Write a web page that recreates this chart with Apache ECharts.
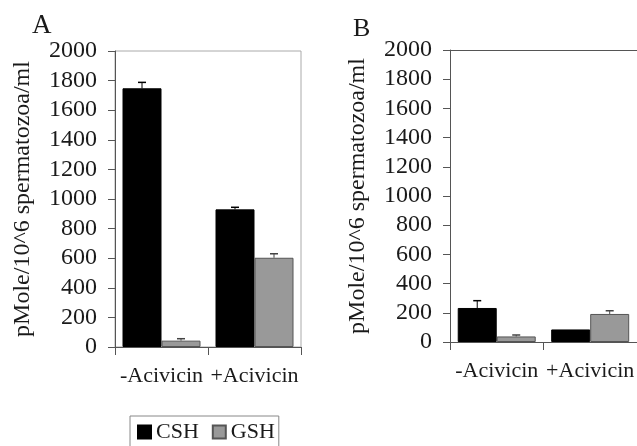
<!DOCTYPE html>
<html>
<head>
<meta charset="utf-8">
<script src="https://cdn.jsdelivr.net/npm/echarts@6/dist/echarts.min.js"></script>
<style>
html,body{margin:0;padding:0;background:#fff;}
#chart{width:637px;height:446px;}
</style>
</head>
<body>
<div id="chart"></div>
<script>
const categories = ['-Acivicin', '+Acivicin'];
const seriesNames = ['CSH', 'GSH'];
// Panel A
const cshA = [1748, 930];
const gshA = [43, 603];
const cshAErr = [40, 14];
const gshAErr = [13, 27];
// Panel B
const cshB = [233, 86];
const gshB = [38, 192];
const cshBErr = [50, 0];
const gshBErr = [10, 22];
const yMin = 0, yMax = 2000, yStep = 200;
const yTitle = 'pMole/10^6 spermatozoa/ml';

const FONT = 'Liberation Serif';
const TXT = '#1a1a1a';
const AX = '#555';
const BARW = 39;
const cshColor = '#000000';
const gshColor = '#999999';

function errData(vals, errs) {
  return vals.map((v, i) => [i, v, errs[i]]);
}
function errSeries(name, xi, yi, vals, errs, side, color) {
  return {
    type: 'custom', name: name + '_err', xAxisIndex: xi, yAxisIndex: yi,
    data: errData(vals, errs), z: 5, silent: true,
    renderItem: function (params, api) {
      const c = api.value(0), v = api.value(1), e = api.value(2);
      if (!e) return null;
      const base = api.coord([c, v]);
      const top = api.coord([c, v + e]);
      const x = base[0] + side * BARW / 2;
      return {
        type: 'group', children: [
          { type: 'line', shape: { x1: x, y1: base[1], x2: x, y2: top[1] }, style: { stroke: color, lineWidth: 1 } },
          { type: 'line', shape: { x1: x - 4, y1: top[1], x2: x + 4, y2: top[1] }, style: { stroke: color, lineWidth: 1.5 } }
        ]
      };
    }
  };
}
function yAxis(gi) {
  return {
    type: 'value', gridIndex: gi, min: yMin, max: yMax, interval: yStep,
    name: yTitle, nameLocation: 'middle', nameRotate: 90, nameGap: 80,
    nameTextStyle: { fontFamily: FONT, fontSize: 24, color: TXT },
    axisLine: { show: true, lineStyle: { color: AX, width: 1 } },
    axisTick: { show: true, length: 7, lineStyle: { color: AX } },
    axisLabel: { fontFamily: FONT, fontSize: 24, color: TXT, margin: 18, formatter: v => String(v) },
    splitLine: { show: false }
  };
}
function xAxis(gi) {
  return {
    type: 'category', gridIndex: gi, data: categories,
    axisLine: { show: true, lineStyle: { color: AX, width: 1 } },
    axisTick: { show: true, length: 8, alignWithLabel: false, lineStyle: { color: AX } },
    axisLabel: { fontFamily: FONT, fontSize: 22, color: TXT, margin: 18, interval: 0 }
  };
}
function barSeries(name, xi, yi, vals, color, border) {
  return {
    type: 'bar', name: name, xAxisIndex: xi, yAxisIndex: yi, data: vals,
    barWidth: BARW, barGap: '0%',
    itemStyle: { color: color, borderColor: border, borderWidth: 1 }
  };
}

const chart = echarts.init(document.getElementById('chart'), null, { renderer: 'canvas' });
chart.setOption({
  animation: false,
  backgroundColor: '#fff',
  title: [
    { text: 'A', left: 27, top: 7, textStyle: { fontFamily: FONT, fontSize: 27, fontWeight: 'normal', color: TXT } },
    { text: 'B', left: 348, top: 11, textStyle: { fontFamily: FONT, fontSize: 26, fontWeight: 'normal', color: TXT } }
  ],
  grid: [
    { left: 115, top: 51, width: 186, height: 296, show: true, borderColor: '#aaa', borderWidth: 1, backgroundColor: 'transparent' },
    { left: 450, top: 50, width: 188, height: 292 }
  ],
  xAxis: [
    xAxis(0), xAxis(1),
    { type: 'category', gridIndex: 1, data: categories, position: 'top',
      axisLine: { show: true, lineStyle: { color: AX, width: 1 } },
      axisTick: { show: false }, axisLabel: { show: false } }
  ],
  yAxis: [yAxis(0), yAxis(1)],
  legend: {
    data: seriesNames, left: 130, top: 416,
    orient: 'horizontal', icon: 'rect', itemWidth: 13, itemHeight: 13, itemGap: 13,
    borderColor: '#888', borderWidth: 1, padding: [5, 4, 30, 7],
    textStyle: { fontFamily: FONT, fontSize: 22, color: TXT }
  },
  series: [
    barSeries('CSH', 0, 0, cshA, cshColor, '#000'),
    barSeries('GSH', 0, 0, gshA, gshColor, '#555'),
    errSeries('CSH', 0, 0, cshA, cshAErr, -1, '#000'),
    errSeries('GSH', 0, 0, gshA, gshAErr, 1, '#444'),
    barSeries('CSH', 1, 1, cshB, cshColor, '#000'),
    barSeries('GSH', 1, 1, gshB, gshColor, '#555'),
    errSeries('CSH', 1, 1, cshB, cshBErr, -1, '#000'),
    errSeries('GSH', 1, 1, gshB, gshBErr, 1, '#444')
  ]
});
</script>
</body>
</html>
